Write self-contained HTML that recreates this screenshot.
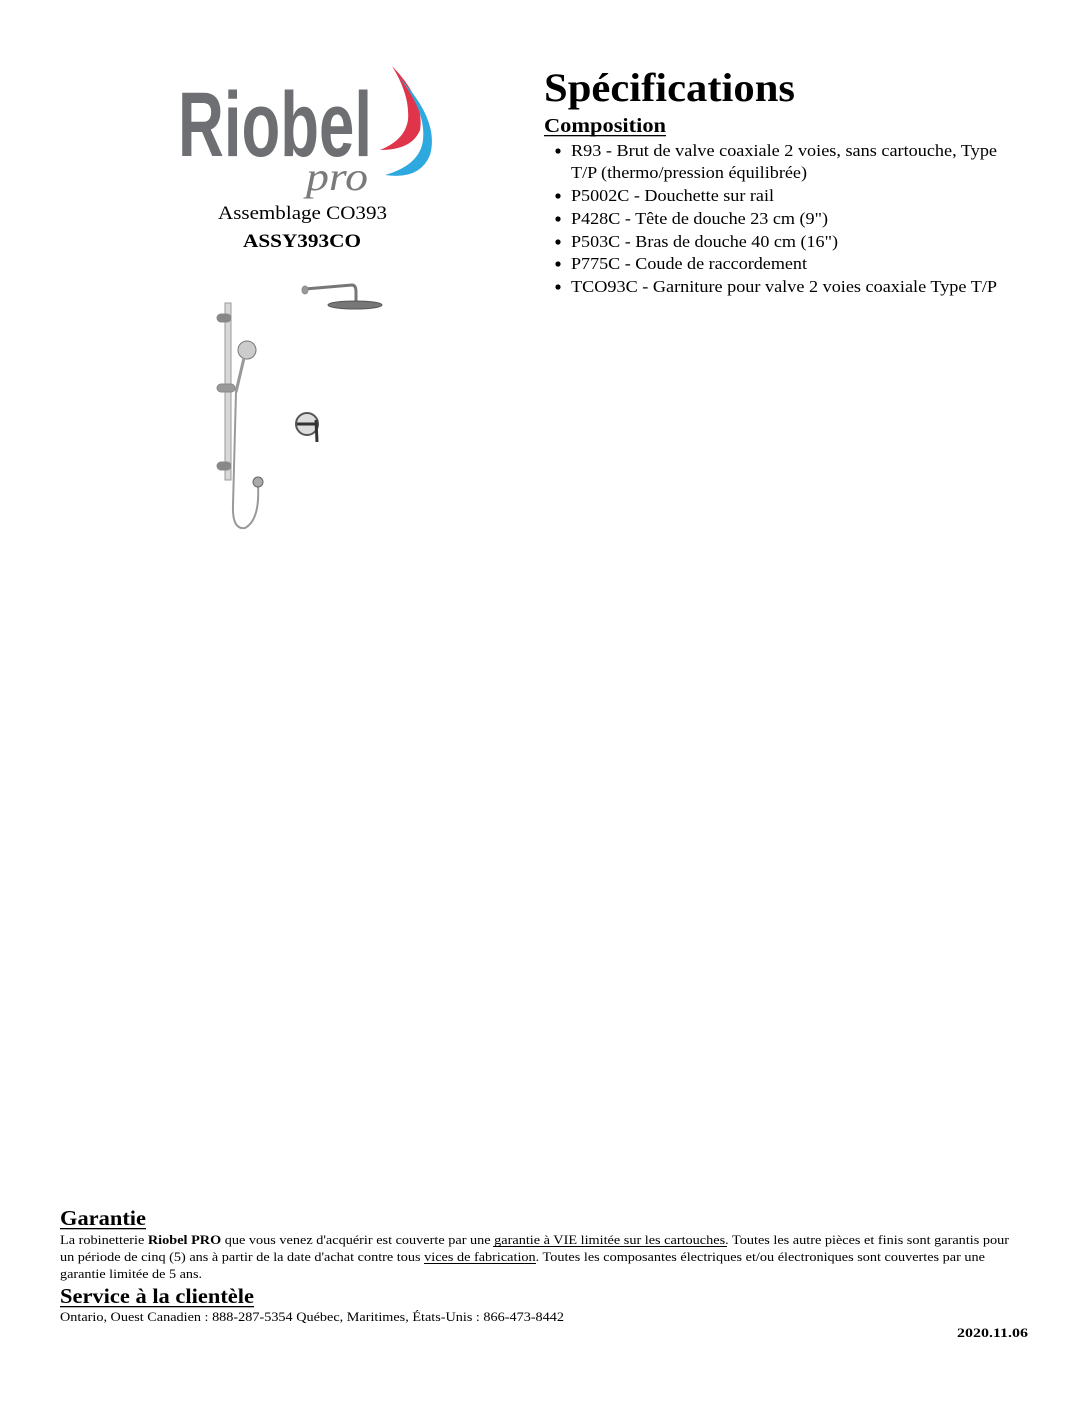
<!DOCTYPE html>
<html><head><meta charset="utf-8"><style>
html,body{margin:0;padding:0;background:#fff;width:1088px;height:1408px;overflow:hidden}
svg{display:block}
text{font-family:"Liberation Serif",serif;fill:#000}
</style></head><body>
<svg width="1088" height="1408" viewBox="0 0 1088 1408" xmlns="http://www.w3.org/2000/svg">
<!-- Logo -->
<text x="178" y="156" font-size="92" font-weight="bold" style="fill:#6e6f72;font-family:'Liberation Sans Narrow','Liberation Sans',sans-serif" textLength="194" lengthAdjust="spacingAndGlyphs">Riobel</text>
<text x="306" y="190" font-size="40" font-style="italic" style="fill:#7a7a7a;font-family:'Liberation Serif',serif" textLength="62" lengthAdjust="spacingAndGlyphs">pro</text>
<path d="M392 66 Q425 100 420 130 Q412 150 380 150 Q405 140 408 120 Q410 95 392 66Z" fill="#e0344a"/>
<path d="M398 76 Q440 120 430 155 Q420 180 385 175 Q420 165 423 140 Q426 110 398 76Z" fill="#2ea9df"/>
<text x="218" y="219" font-size="19" textLength="169" lengthAdjust="spacingAndGlyphs">Assemblage CO393</text>
<text x="243" y="247" font-size="19" font-weight="bold" textLength="118" lengthAdjust="spacingAndGlyphs">ASSY393CO</text>
<!-- product illustration -->
<g fill="none" stroke="#8a8a8a">
<rect x="225" y="303" width="6" height="177" fill="#d8d8d8" stroke="#999"/>
<rect x="217" y="314" width="14" height="8" rx="4" fill="#888"/>
<rect x="217" y="384" width="18" height="8" rx="4" fill="#999"/>
<rect x="217" y="462" width="14" height="8" rx="4" fill="#888"/>
<circle cx="247" cy="350" r="9" fill="#ccc" stroke="#777"/>
<path d="M244 358 L236 392" stroke="#999" stroke-width="3"/>
<path d="M236 392 L233 505 Q232 530 245 528 Q260 520 258 485" stroke="#999" stroke-width="2"/>
<circle cx="258" cy="482" r="5" fill="#aaa" stroke="#666"/>
<path d="M305 289 L352 285 Q356 285 356 292 L356 302" stroke="#777" stroke-width="3"/>
<ellipse cx="305" cy="290" rx="3" ry="4" fill="#999"/>
<ellipse cx="355" cy="305" rx="27" ry="4" fill="#777" stroke="#555"/>
<circle cx="307" cy="424" r="11" fill="#ddd" stroke="#555" stroke-width="2"/>
<path d="M297 424 L317 424 M316 420 L317 442" stroke="#333" stroke-width="3"/>
</g>
<!-- Right column -->
<text x="544" y="101" font-size="40" font-weight="bold" textLength="251" lengthAdjust="spacingAndGlyphs">Spécifications</text>
<text x="544" y="132" font-size="20" font-weight="bold" textLength="122" lengthAdjust="spacingAndGlyphs">Composition</text>
<rect x="544" y="135" width="122" height="1.3" fill="#000"/>
<g font-size="17">
<circle cx="558" cy="151" r="2.6"/><text x="571" y="156" textLength="426" lengthAdjust="spacingAndGlyphs">R93 - Brut de valve coaxiale 2 voies, sans cartouche, Type</text>
<text x="571" y="178" textLength="236" lengthAdjust="spacingAndGlyphs">T/P (thermo/pression équilibrée)</text>
<circle cx="558" cy="196" r="2.6"/><text x="571" y="201" textLength="203" lengthAdjust="spacingAndGlyphs">P5002C - Douchette sur rail</text>
<circle cx="558" cy="219" r="2.6"/><text x="571" y="224" textLength="257" lengthAdjust="spacingAndGlyphs">P428C - Tête de douche 23 cm (9")</text>
<circle cx="558" cy="242" r="2.6"/><text x="571" y="247" textLength="267" lengthAdjust="spacingAndGlyphs">P503C - Bras de douche 40 cm (16")</text>
<circle cx="558" cy="264" r="2.6"/><text x="571" y="269" textLength="236" lengthAdjust="spacingAndGlyphs">P775C - Coude de raccordement</text>
<circle cx="558" cy="287" r="2.6"/><text x="571" y="292" textLength="426" lengthAdjust="spacingAndGlyphs">TCO93C - Garniture pour valve 2 voies coaxiale Type T/P</text>
</g>
<!-- Footer -->
<text x="60" y="1225" font-size="21" font-weight="bold" textLength="86" lengthAdjust="spacingAndGlyphs">Garantie</text>
<rect x="60" y="1228" width="86" height="1.3" fill="#000"/>
<g font-size="13">
<text x="60" y="1244" textLength="949" lengthAdjust="spacingAndGlyphs">La robinetterie <tspan font-weight="bold">Riobel PRO</tspan> que vous venez d'acquérir est couverte par une garantie à VIE limitée sur les cartouches. Toutes les autre pièces et finis sont garantis pour</text>
<rect x="493" y="1246" width="234" height="1" fill="#000"/>
<text x="60" y="1261" textLength="925" lengthAdjust="spacingAndGlyphs">un période de cinq (5) ans à partir de la date d'achat contre tous vices de fabrication. Toutes les composantes électriques et/ou électroniques sont couvertes par une</text>
<rect x="424" y="1263" width="112" height="1" fill="#000"/>
<text x="60" y="1278" textLength="142" lengthAdjust="spacingAndGlyphs">garantie limitée de 5 ans.</text>
</g>
<text x="60" y="1303" font-size="21" font-weight="bold" textLength="194" lengthAdjust="spacingAndGlyphs">Service à la clientèle</text>
<rect x="60" y="1306" width="194" height="1.3" fill="#000"/>
<text x="60" y="1321" font-size="13" textLength="504" lengthAdjust="spacingAndGlyphs">Ontario, Ouest Canadien : 888-287-5354 Québec, Maritimes, États-Unis : 866-473-8442</text>
<text x="957" y="1337" font-size="13" font-weight="bold" textLength="71" lengthAdjust="spacingAndGlyphs">2020.11.06</text>
</svg>
</body></html>
